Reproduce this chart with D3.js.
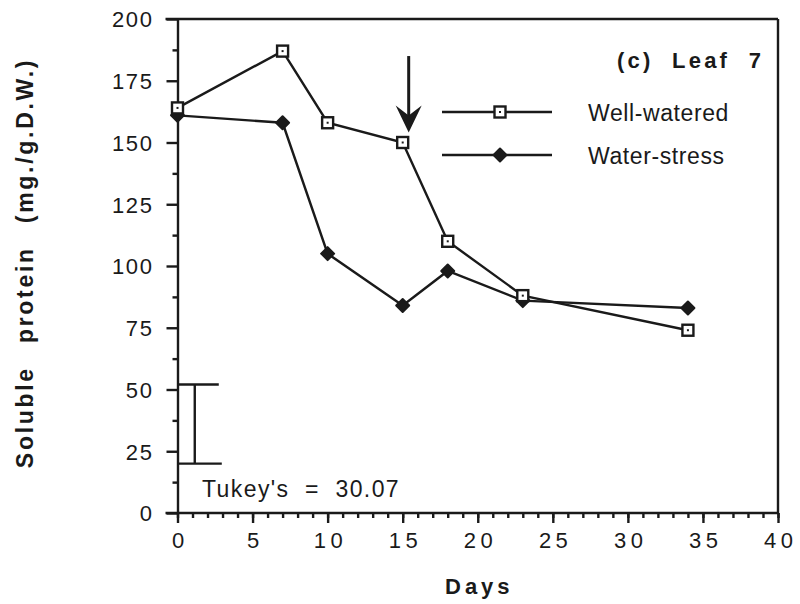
<!DOCTYPE html>
<html>
<head>
<meta charset="utf-8">
<script src="https://cdn.jsdelivr.net/npm/d3@7"></script>
<style>
  body { margin: 0; background: #fff; }
  text { font-family: "Liberation Sans", Arial, Helvetica, sans-serif; fill: #1a1a1a; }
</style>
</head>
<body>
<div id="chart"></div>
<script>
// data
var days = [0, 7, 10, 15, 18, 23, 34];
var wellWatered = [164, 187, 158, 150, 110, 88, 74];
var waterStress = [161, 158, 105, 84, 98, 86, 83];
var seriesNames = ["Well-watered", "Water-stress"];
var xTicks = [0, 5, 10, 15, 20, 25, 30, 35, 40];
var yTicks = [0, 25, 50, 75, 100, 125, 150, 175, 200];
var tukeyLow = 20, tukeyHigh = 52, tukeyText = "Tukey's  =  30.07";
var arrowDay = 15.4, arrowFrom = 185, arrowTo = 154;

window.onload = draw;

function draw() {
  const width = 800, height = 604;
  const left = 177.5, right = 778, top = 19, bottom = 513;
  const ink = "#1a1a1a";
  const lw = 2.4;

  const svg = d3.select("#chart").append("svg")
    .attr("width", width)
    .attr("height", height);

  const x = d3.scaleLinear().domain([0, 40]).range([left, right]);
  const y = d3.scaleLinear().domain([0, 200]).range([bottom, top]);

  // frame: top and right borders
  svg.append("line").attr("x1", left - 12).attr("x2", right)
    .attr("y1", y(200)).attr("y2", y(200))
    .attr("stroke", ink).attr("stroke-width", lw);
  svg.append("line").attr("x1", right).attr("x2", right)
    .attr("y1", y(200)).attr("y2", y(0))
    .attr("stroke", ink).attr("stroke-width", lw);

  // x axis minor ticks (every day)
  const xMinor = svg.append("g")
    .attr("transform", "translate(0," + bottom + ")")
    .call(d3.axisBottom(x).tickValues(d3.range(0, 41)).tickSize(5).tickFormat(""));
  xMinor.select(".domain").remove();

  const xAxis = svg.append("g")
    .attr("transform", "translate(0," + bottom + ")")
    .call(d3.axisBottom(x).tickValues(xTicks).tickSizeInner(10).tickSizeOuter(0).tickPadding(12));
  xAxis.select(".domain").attr("d", "M" + (left - 12) + ",0H" + right);
  xAxis.selectAll("text")
    .attr("font-size", 22)
    .attr("letter-spacing", 4.5)
    .attr("dx", 2.3)
    .attr("dy", "0.6em");

  // y axis minor ticks
  const yMinor = svg.append("g")
    .attr("transform", "translate(" + left + ",0)")
    .call(d3.axisLeft(y).tickValues(d3.range(12.5, 200, 25)).tickSize(5).tickFormat(""));
  yMinor.select(".domain").remove();

  const yAxis = svg.append("g")
    .attr("transform", "translate(" + left + ",0)")
    .call(d3.axisLeft(y).tickValues(yTicks).tickSizeInner(11).tickSizeOuter(0).tickPadding(13));
  yAxis.selectAll("text")
    .attr("font-size", 22)
    .attr("letter-spacing", 1.6)
    .attr("dy", "0.36em");

  svg.selectAll(".domain, .tick line").attr("stroke", ink).attr("stroke-width", lw);

  // axis titles
  svg.append("text")
    .attr("x", 445).attr("y", 594)
    .attr("font-size", 22).attr("font-weight", "bold")
    .attr("letter-spacing", 4)
    .text("Days");

  svg.append("text")
    .attr("transform", "translate(33,263) rotate(-90)")
    .attr("text-anchor", "middle")
    .attr("font-size", 23).attr("font-weight", "bold")
    .attr("letter-spacing", 2.7)
    .attr("word-spacing", 14)
    .text("Soluble protein (mg./g.D.W.)");

  // series lines
  const line = d3.line().x(d => x(d[0])).y(d => y(d[1]));
  const wwPts = days.map((d, i) => [d, wellWatered[i]]);
  const wsPts = days.map((d, i) => [d, waterStress[i]]);

  [wsPts, wwPts].forEach(function(pts) {
    svg.append("path").datum(pts)
      .attr("d", line)
      .attr("fill", "none")
      .attr("stroke", ink)
      .attr("stroke-width", lw);
  });

  const diamond = function(r) { return "M0," + (-r) + "L" + r + ",0L0," + r + "L" + (-r) + ",0Z"; };

  function drawDiamond(g, cx, cy) {
    g.append("path")
      .attr("transform", "translate(" + cx + "," + cy + ")")
      .attr("d", diamond(6.5))
      .attr("fill", ink).attr("stroke", ink)
      .attr("stroke-width", 2).attr("stroke-linejoin", "round");
  }
  function drawSquare(g, cx, cy) {
    g.append("rect")
      .attr("x", cx - 5.5).attr("y", cy - 5.5)
      .attr("width", 11).attr("height", 11)
      .attr("fill", "#fff").attr("stroke", ink).attr("stroke-width", 2.4);
    g.append("rect")
      .attr("x", cx - 1).attr("y", cy - 1)
      .attr("width", 2).attr("height", 2)
      .attr("fill", ink);
  }

  const marks = svg.append("g");
  wsPts.forEach(p => drawDiamond(marks, x(p[0]), y(p[1])));
  wwPts.forEach(p => drawSquare(marks, x(p[0]), y(p[1])));

  // arrow at day 15
  const ax = x(arrowDay), ay0 = y(arrowFrom), ay1 = y(arrowTo);
  svg.append("line")
    .attr("x1", ax).attr("x2", ax)
    .attr("y1", ay0).attr("y2", ay1 - 12)
    .attr("stroke", ink).attr("stroke-width", 3);
  svg.append("path")
    .attr("d", "M" + ax + "," + ay1 + "L" + (ax - 13) + "," + (ay1 - 27) +
               "L" + ax + "," + (ay1 - 17) + "L" + (ax + 13) + "," + (ay1 - 27) + "Z")
    .attr("fill", ink);

  // Tukey's bar
  const tx = x(1.15);
  svg.append("line").attr("x1", tx).attr("x2", tx)
    .attr("y1", y(tukeyHigh)).attr("y2", y(tukeyLow))
    .attr("stroke", ink).attr("stroke-width", lw);
  svg.append("line").attr("x1", left).attr("x2", x(2.75))
    .attr("y1", y(tukeyHigh)).attr("y2", y(tukeyHigh))
    .attr("stroke", ink).attr("stroke-width", lw);
  svg.append("line").attr("x1", left).attr("x2", x(2.95))
    .attr("y1", y(tukeyLow)).attr("y2", y(tukeyLow))
    .attr("stroke", ink).attr("stroke-width", lw);
  svg.append("text")
    .attr("x", 202).attr("y", 497)
    .attr("font-size", 23)
    .attr("letter-spacing", 1.4)
    .style("white-space", "pre")
    .text(tukeyText);

  // panel title
  svg.append("text")
    .attr("x", 617).attr("y", 68)
    .attr("font-size", 22).attr("font-weight", "bold")
    .attr("letter-spacing", 3.2)
    .style("white-space", "pre")
    .text("(c)  Leaf  7");

  // legend
  const legend = svg.append("g");
  const legY = [112, 155];
  legY.forEach(function(ly, i) {
    legend.append("line").attr("x1", 442).attr("x2", 552)
      .attr("y1", ly).attr("y2", ly)
      .attr("stroke", ink).attr("stroke-width", lw);
    if (i === 0) drawSquare(legend, 500, ly); else drawDiamond(legend, 500, ly);
    legend.append("text")
      .attr("x", 588).attr("y", ly + 8.5)
      .attr("font-size", 23)
      .attr("letter-spacing", 0.6)
      .text(seriesNames[i]);
  });
}
</script>
</body>
</html>
